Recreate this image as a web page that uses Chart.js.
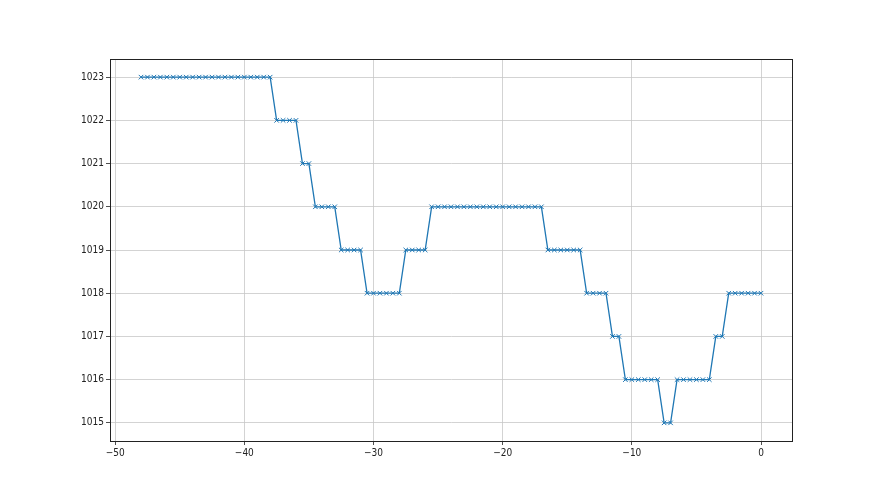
<!DOCTYPE html>
<html>
<head>
<meta charset="utf-8">
<script src="https://cdn.jsdelivr.net/npm/chart.js@4.4.1/dist/chart.umd.min.js"></script>
<style>
  html, body { margin: 0; padding: 0; background: #fff; }
  #wrap { width: 880px; height: 495px; }
</style>
</head>
<body>
<div id="wrap"><canvas id="pressureChart" width="880" height="495"></canvas></div>
<script>
// hours before now (step 0.5) and pressure readings
const hours = [];
for (let h = -48; h <= 0; h += 0.5) hours.push(h);

const pressure = [
  1023, 1023, 1023, 1023, 1023, 1023, 1023, 1023, 1023, 1023, 1023,
  1023, 1023, 1023, 1023, 1023, 1023, 1023, 1023, 1023, 1023,
  1022, 1022, 1022, 1022,
  1021, 1021,
  1020, 1020, 1020, 1020,
  1019, 1019, 1019, 1019,
  1018, 1018, 1018, 1018, 1018, 1018,
  1019, 1019, 1019, 1019,
  1020, 1020, 1020, 1020, 1020, 1020, 1020, 1020, 1020,
  1020, 1020, 1020, 1020, 1020, 1020, 1020, 1020, 1020,
  1019, 1019, 1019, 1019, 1019, 1019,
  1018, 1018, 1018, 1018,
  1017, 1017,
  1016, 1016, 1016, 1016, 1016, 1016,
  1015, 1015,
  1016, 1016, 1016, 1016, 1016, 1016,
  1017, 1017,
  1018, 1018, 1018, 1018, 1018, 1018
];

const xTicks = [-50, -40, -30, -20, -10, 0];
const yTicks = [1015, 1016, 1017, 1018, 1019, 1020, 1021, 1022, 1023];

const points = hours.map((h, i) => ({ x: h, y: pressure[i] }));

// draw the top/right spines too, like a matplotlib axes box
const frame = {
  id: 'frame',
  afterDraw(chart) {
    const { ctx, chartArea: a } = chart;
    ctx.save();
    ctx.strokeStyle = '#222';
    ctx.lineWidth = 1;
    ctx.strokeRect(Math.round(a.left) + 0.5, Math.round(a.top) + 0.5,
      Math.round(a.right - a.left), Math.round(a.bottom - a.top));
    ctx.restore();
  }
};

const tickFont = { family: "'Liberation Sans Narrow', 'DejaVu Sans Condensed', 'DejaVu Sans'", size: 10 };

const ctx = document.getElementById('pressureChart').getContext('2d');

new Chart(ctx, {
  type: 'scatter',
  data: {
    datasets: [{
      data: points,
      showLine: true,
      borderColor: '#1f77b4',
      borderWidth: 1.3,
      pointStyle: 'crossRot',
      pointRadius: 3.2,
      pointBorderWidth: 1,
      pointBorderColor: '#1f77b4',
      pointHoverRadius: 3.2,
      tension: 0
    }]
  },
  plugins: [frame],
  options: {
    responsive: false,
    animation: false,
    events: [],
    layout: { padding: { top: 59, right: 88, left: 0, bottom: 0 } },
    plugins: {
      legend: { display: false },
      tooltip: { enabled: false }
    },
    scales: {
      x: {
        type: 'linear',
        min: -50.4,
        max: 2.4,
        afterBuildTicks: s => { s.ticks = xTicks.map(v => ({ value: v })); },
        afterFit: s => { s.height = 54; },
        ticks: {
          color: '#222', font: tickFont, padding: 2, maxRotation: 0,
          callback: v => String(v).replace('-', '\u2212')
        },
        grid: { color: '#c8c8c8', lineWidth: 0.8, tickColor: '#222', tickLength: 4 },
        border: { color: '#222', width: 1 }
      },
      y: {
        type: 'linear',
        min: 1014.58,
        max: 1023.42,
        afterBuildTicks: s => { s.ticks = yTicks.map(v => ({ value: v })); },
        afterFit: s => { s.width = 110; },
        ticks: { color: '#222', font: tickFont, padding: 2, callback: v => String(v) },
        grid: { color: '#c8c8c8', lineWidth: 0.8, tickColor: '#222', tickLength: 4 },
        border: { color: '#222', width: 1 }
      }
    }
  }
});
</script>
</body>
</html>
